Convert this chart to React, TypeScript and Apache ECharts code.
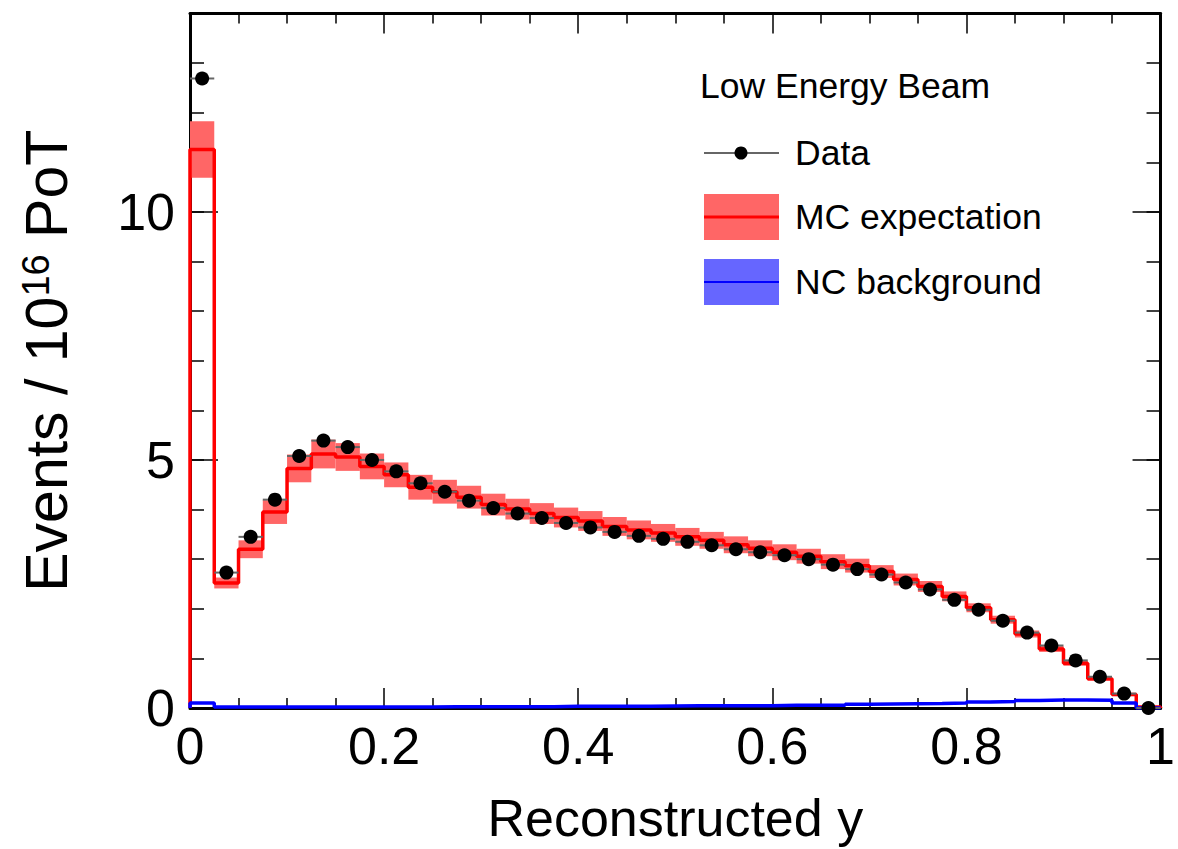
import React, { useEffect, useRef } from "react";
import * as echarts from "echarts";

// Histogram binning: 40 bins of width 0.025 over reconstructed y in [0, 1]
const BIN_WIDTH = 0.025;

// Data points (events / 1e16 PoT), one per bin
const dataValues = [
  12.69, 2.73, 3.45, 4.2, 5.08, 5.39, 5.26, 5.0, 4.77, 4.53,
  4.36, 4.18, 4.03, 3.92, 3.83, 3.73, 3.64, 3.55, 3.47, 3.41,
  3.35, 3.28, 3.2, 3.14, 3.08, 3.0, 2.89, 2.8, 2.69, 2.53,
  2.39, 2.18, 1.98, 1.76, 1.52, 1.26, 0.96, 0.63, 0.29, 0.0,
];

// MC expectation (central value) per bin
const mcValues = [
  11.26, 2.52, 3.2, 3.95, 4.83, 5.12, 5.06, 4.87, 4.7, 4.45,
  4.36, 4.25, 4.1, 4.01, 3.92, 3.84, 3.77, 3.66, 3.59, 3.53,
  3.45, 3.38, 3.29, 3.22, 3.14, 3.06, 2.95, 2.87, 2.75, 2.59,
  2.45, 2.25, 2.02, 1.78, 1.49, 1.19, 0.9, 0.59, 0.27, 0.02,
];

// MC systematic error band half-width per bin
const mcErrors = [
  0.57, 0.11, 0.18, 0.24, 0.28, 0.29, 0.28, 0.26, 0.25, 0.25,
  0.24, 0.23, 0.22, 0.21, 0.21, 0.2, 0.2, 0.19, 0.19, 0.18,
  0.18, 0.17, 0.17, 0.16, 0.16, 0.15, 0.15, 0.14, 0.13, 0.12,
  0.11, 0.1, 0.09, 0.08, 0.07, 0.06, 0.05, 0.04, 0.03, 0.01,
];

// NC background per bin
const ncValues = [
  0.1, 0.02, 0.02, 0.02, 0.02, 0.02, 0.02, 0.02, 0.02, 0.02,
  0.025, 0.025, 0.025, 0.025, 0.025, 0.035, 0.035, 0.035, 0.035, 0.04,
  0.045, 0.045, 0.045, 0.045, 0.055, 0.055, 0.055, 0.075, 0.08, 0.085,
  0.09, 0.1, 0.12, 0.13, 0.15, 0.16, 0.16, 0.155, 0.1, 0.0,
];

// NC background error band half-width per bin
const ncErrors = [
  0.012, 0.006, 0.006, 0.006, 0.006, 0.006, 0.006, 0.006, 0.006, 0.006,
  0.006, 0.006, 0.006, 0.006, 0.006, 0.008, 0.008, 0.008, 0.008, 0.008,
  0.008, 0.008, 0.008, 0.008, 0.01, 0.01, 0.01, 0.012, 0.012, 0.012,
  0.012, 0.014, 0.016, 0.016, 0.018, 0.018, 0.018, 0.018, 0.014, 0.0,
];

const FONT = "'Liberation Sans', Arial, Helvetica, sans-serif";

function stepPoints(values: number[]) {
  const pts: number[][] = [[0, 0]];
  values.forEach((v, i) => pts.push([i * BIN_WIDTH, v]));
  pts.push([values.length * BIN_WIDTH, values[values.length - 1]]);
  pts.push([values.length * BIN_WIDTH, 0]);
  return pts;
}

function bandRows(values: number[], errors: number[]) {
  return values.map((v, i) => [i * BIN_WIDTH, (i + 1) * BIN_WIDTH, v - errors[i], v + errors[i]]);
}

function bandRenderer(fill: string) {
  return (params: any, api: any) => {
    const p0 = api.coord([api.value(0), api.value(3)]);
    const p1 = api.coord([api.value(1), api.value(2)]);
    return {
      type: "rect",
      shape: { x: p0[0], y: p0[1], width: p1[0] - p0[0], height: p1[1] - p0[1] },
      style: { fill },
    };
  };
}

export default function App() {
  const ref = useRef<HTMLDivElement>(null);

  useEffect(() => {
    if (!ref.current) return;
    const chart = echarts.init(ref.current, null, { renderer: "svg" });

    const tickLine = { color: "#000", width: 1.5 };
    const frameLine = { show: true, onZero: false, lineStyle: { color: "#000", width: 3 } };
    const baseX = {
      type: "value",
      min: 0,
      max: 1,
      interval: 0.2,
      splitLine: { show: false },
    };
    const baseY = {
      type: "value",
      min: 0,
      max: 14,
      splitLine: { show: false },
    };

    const option: any = {
      animation: false,
      backgroundColor: "#fff",
      grid: { left: 190, right: 6, top: 13.5, bottom: 140.5, containLabel: false },
      xAxis: [
        {
          ...baseX,
          position: "bottom",
          axisLine: frameLine,
          axisTick: { show: true, inside: true, length: 20, lineStyle: tickLine },
          minorTick: { show: true, splitNumber: 4, length: 10, lineStyle: tickLine },
          axisLabel: {
            show: true,
            margin: 12,
            fontSize: 52,
            fontFamily: FONT,
            color: "#000",
            formatter: (v: number) => String(Math.round(v * 10) / 10),
          },
          name: "Reconstructed y",
          nameLocation: "middle",
          nameGap: 84,
          nameTextStyle: { fontSize: 52, fontFamily: FONT, color: "#000" },
        },
        {
          ...baseX,
          position: "top",
          axisLine: frameLine,
          axisTick: { show: true, inside: true, length: 20, lineStyle: tickLine },
          minorTick: { show: true, splitNumber: 4, length: 10, lineStyle: tickLine },
          axisLabel: { show: false },
        },
      ],
      yAxis: [
        {
          ...baseY,
          position: "left",
          interval: 1,
          axisLine: frameLine,
          axisTick: { show: true, inside: true, length: 14, lineStyle: tickLine },
          axisLabel: {
            show: true,
            margin: 15,
            fontSize: 52,
            fontFamily: FONT,
            color: "#000",
            formatter: (v: number) => (Math.abs(v % 5) < 1e-9 ? String(v) : ""),
          },
          name: "{a|Events / 10}{s|16}{a| PoT}",
          nameLocation: "middle",
          nameRotate: 90,
          nameGap: 114,
          nameTextStyle: {
            color: "#000",
            fontFamily: FONT,
            rich: {
              a: { fontSize: 59, fontFamily: FONT, color: "#000" },
              s: { fontSize: 38, fontFamily: FONT, color: "#000", verticalAlign: "top" },
            },
          },
        },
        {
          ...baseY,
          position: "left",
          interval: 5,
          axisLine: { show: false, onZero: false },
          axisTick: { show: true, inside: true, length: 28, lineStyle: tickLine },
          axisLabel: { show: false },
        },
        {
          ...baseY,
          position: "right",
          interval: 1,
          axisLine: frameLine,
          axisTick: { show: true, inside: true, length: 14, lineStyle: tickLine },
          axisLabel: { show: false },
        },
        {
          ...baseY,
          position: "right",
          interval: 5,
          axisLine: { show: false, onZero: false },
          axisTick: { show: true, inside: true, length: 28, lineStyle: tickLine },
          axisLabel: { show: false },
        },
      ],
      series: [
        {
          name: "MC band",
          type: "custom",
          xAxisIndex: 0,
          yAxisIndex: 0,
          z: 1,
          renderItem: bandRenderer("#ff6666"),
          encode: { x: [0, 1], y: [2, 3] },
          data: bandRows(mcValues, mcErrors),
        },
        {
          name: "MC expectation",
          type: "line",
          xAxisIndex: 0,
          yAxisIndex: 0,
          z: 2,
          step: "end",
          symbol: "none",
          lineStyle: { color: "#ff0000", width: 3.5 },
          data: stepPoints(mcValues),
        },
        {
          name: "NC band",
          type: "custom",
          xAxisIndex: 0,
          yAxisIndex: 0,
          z: 3,
          renderItem: bandRenderer("#6666ff"),
          encode: { x: [0, 1], y: [2, 3] },
          data: bandRows(ncValues, ncErrors),
        },
        {
          name: "NC background",
          type: "line",
          xAxisIndex: 0,
          yAxisIndex: 0,
          z: 4,
          step: "end",
          symbol: "none",
          lineStyle: { color: "#0000ff", width: 3.5 },
          data: stepPoints(ncValues),
        },
        {
          name: "Data bins",
          type: "custom",
          xAxisIndex: 0,
          yAxisIndex: 0,
          z: 5,
          renderItem: (params: any, api: any) => {
            const p0 = api.coord([api.value(0), api.value(2)]);
            const p1 = api.coord([api.value(1), api.value(2)]);
            return {
              type: "line",
              shape: { x1: p0[0], y1: p0[1], x2: p1[0], y2: p1[1] },
              style: { stroke: "#666", lineWidth: 2 },
            };
          },
          encode: { x: [0, 1], y: 2 },
          data: dataValues.map((v, i) => [i * BIN_WIDTH, (i + 1) * BIN_WIDTH, v]),
        },
        {
          name: "Data",
          type: "scatter",
          xAxisIndex: 0,
          yAxisIndex: 0,
          z: 6,
          symbol: "circle",
          symbolSize: 14,
          clip: false,
          itemStyle: { color: "#000", opacity: 1 },
          data: dataValues.map((v, i) => [(i + 0.5) * BIN_WIDTH, v]),
        },
      ],
      graphic: [
        {
          type: "text",
          left: 700,
          top: 68,
          style: { text: "Low Energy Beam", fontSize: 35.5, fontFamily: FONT, fill: "#000" },
        },
        {
          type: "line",
          shape: { x1: 704, y1: 153, x2: 779, y2: 153 },
          style: { stroke: "#666", lineWidth: 2 },
        },
        { type: "circle", shape: { cx: 741, cy: 153, r: 6.5 }, style: { fill: "#000" } },
        {
          type: "text",
          x: 795,
          y: 153,
          style: { text: "Data", fontSize: 35.5, fontFamily: FONT, fill: "#000", verticalAlign: "middle" },
        },
        { type: "rect", shape: { x: 704, y: 194, width: 75, height: 46 }, style: { fill: "#ff6666" } },
        {
          type: "line",
          shape: { x1: 704, y1: 217, x2: 779, y2: 217 },
          style: { stroke: "#ff0000", lineWidth: 3 },
        },
        {
          type: "text",
          x: 795,
          y: 217,
          style: { text: "MC expectation", fontSize: 35.5, fontFamily: FONT, fill: "#000", verticalAlign: "middle" },
        },
        { type: "rect", shape: { x: 704, y: 259, width: 75, height: 46 }, style: { fill: "#6666ff" } },
        {
          type: "line",
          shape: { x1: 704, y1: 282, x2: 779, y2: 282 },
          style: { stroke: "#0000ff", lineWidth: 2 },
        },
        {
          type: "text",
          x: 795,
          y: 282,
          style: { text: "NC background", fontSize: 35.5, fontFamily: FONT, fill: "#000", verticalAlign: "middle" },
        },
      ],
    };

    chart.setOption(option);
    return () => chart.dispose();
  }, []);

  return (
    <div
      ref={ref}
      style={{ position: "absolute", left: 0, top: 0, width: 1178, height: 849, background: "#fff" }}
    />
  );
}
